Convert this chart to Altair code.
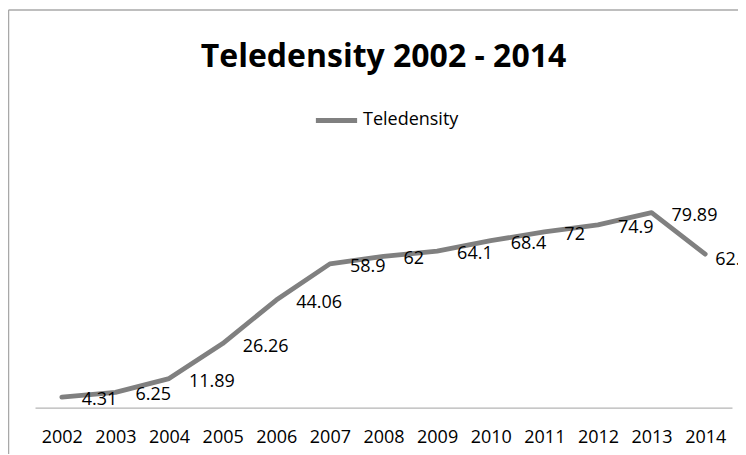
import altair as alt
import pandas as pd

title_text = "Teledensity 2002 - 2014"
series_name = "Teledensity"
years = ["2002", "2003", "2004", "2005", "2006", "2007", "2008",
         "2009", "2010", "2011", "2012", "2013", "2014"]
values = [4.31, 6.25, 11.89, 26.26, 44.06, 58.9, 62, 64.1, 68.4, 72, 74.9, 79.89, 62.9]
labels = ["4.31", "6.25", "11.89", "26.26", "44.06", "58.9", "62", "64.1",
          "68.4", "72", "74.9", "79.89", "62.9"]
last_year = years[-1]

df = pd.DataFrame({"year": years, "value": values, "label": labels,
                   "series": [series_name] * len(years)})
one = pd.DataFrame({"k": [0]})

FONT = "Open Sans"
W = 697
H = 219.6

x = alt.X("year:N", sort=years,
          scale=alt.Scale(type="point", padding=0.5),
          axis=alt.Axis(title=None, labelAngle=0, ticks=False, tickSize=0,
                        domainColor="#b5b5b5", domainWidth=1.3,
                        labelFont=FONT, labelFontSize=18, labelColor="#000000",
                        labelPadding=21, grid=False))
y = alt.Y("value:Q", scale=alt.Scale(domain=[0, 90]), axis=None)

base = alt.Chart(df).encode(x=x, y=y)

line = base.mark_line(strokeWidth=4.8, strokeCap="round", strokeJoin="round").encode(
    color=alt.Color("series:N", scale=alt.Scale(range=["#808080"]),
                    legend=alt.Legend(title=None, orient="none", legendX=278, legendY=-91,
                                      symbolType="stroke", symbolSize=1700,
                                      symbolStrokeWidth=4.8,
                                      labelFont=FONT, labelFontSize=18,
                                      labelColor="#000000", labelOffset=3))
)

text = base.mark_text(align="left", baseline="middle", dx=20, dy=3,
                      font=FONT, fontSize=18, color="#000000").encode(
    text="label:N").transform_filter(alt.datum.year != last_year)

text_last = base.mark_text(align="left", baseline="middle", dx=10, dy=6,
                           font=FONT, fontSize=18, color="#000000").encode(
    text="label:N").transform_filter(alt.datum.year == last_year)

title = alt.Chart(one).mark_text(align="center", baseline="alphabetic", font=FONT,
                                 fontSize=32, fontWeight="bold", color="#000000").encode(
    x=alt.value(W / 2), y=alt.value(-121), text=alt.value(title_text))

border_top = alt.Chart(one).mark_rule(color="#a8a8a8", strokeWidth=1.5).encode(
    x=alt.value(-26.5), x2=alt.value(720), y=alt.value(-178))
border_left = alt.Chart(one).mark_rule(color="#a8a8a8", strokeWidth=1.5).encode(
    x=alt.value(-26.5), y=alt.value(-178), y2=alt.value(270))

chart = alt.layer(border_top, border_left, title, line, text, text_last).properties(
    width=W, height=H,
    autosize=alt.AutoSizeParams(type="none"),
    padding={"left": 27, "top": 180, "right": 6, "bottom": 46},
    background="white",
).configure_view(stroke=None)

chart.save("out.html", embed_options={"renderer": "svg", "actions": False})
